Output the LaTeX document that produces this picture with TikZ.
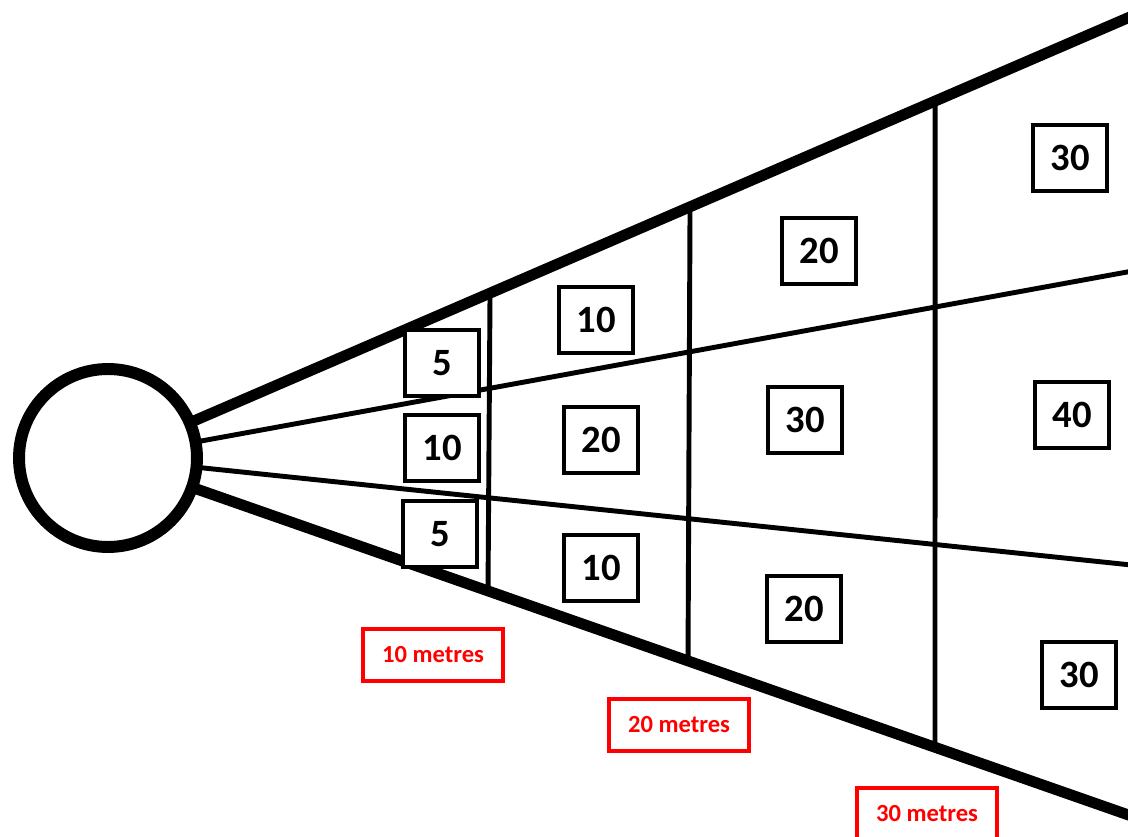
\documentclass[tikz,border=0pt]{standalone}
\usepackage{fontspec}
\setmainfont{Carlito}
\begin{document}
\begin{tikzpicture}[x=0.02cm,y=-0.02cm,
  outerline/.style={line width=6.2pt},
  innerline/.style={line width=2.8pt},
  divider/.style={line width=2.8pt},
  score/.style={draw, line width=2.3pt, fill=white, inner sep=0pt,
    minimum width=1.48cm, minimum height=1.32cm,
    font=\fontsize{22}{24}\selectfont\bfseries},
  rangebox/.style={draw=red, line width=1.9pt, fill=white, inner sep=0pt,
    minimum width=2.8cm, minimum height=1.04cm, text=red,
    font=\fontsize{14}{16}\selectfont\bfseries}]
  \useasboundingbox (0,0) rectangle (1128,837);

  % hub circle and the ends of the four rays
  \node[draw, circle, line width=6.8pt, inner sep=0pt, outer sep=0pt,
        minimum size=3.56cm] (hub) at (108,458) {};
  \coordinate (upEnd) at (1160,4);
  \coordinate (midUpEnd) at (1160,266);
  \coordinate (midLowEnd) at (1160,568);
  \coordinate (lowEnd) at (1160,826);

  \draw[outerline] (hub) -- (upEnd);
  \draw[outerline] (hub) -- (lowEnd);
  \draw[innerline] (hub) -- (midUpEnd);
  \draw[innerline] (hub) -- (midLowEnd);

  % distance dividers between the outer rays
  \foreach \name/\xt/\xb in {d1/490/488, d2/690/688, d3/935/935} {
    \coordinate (\name top) at (intersection of hub.center--upEnd and {\xt,0}--{\xt,837});
    \coordinate (\name bot) at (intersection of hub.center--lowEnd and {\xb,0}--{\xb,837});
    \draw[divider] (\name top) -- (\name bot);
  }

  % scores
  \node[score] (s1a) at (442,363) {5};
  \node[score] (s1b) at (442,448) {10};
  \node[score] (s1c) at (440,534) {5};
  \node[score] (s2a) at (596,320) {10};
  \node[score] (s2b) at (601,440) {20};
  \node[score] (s2c) at (601,568) {10};
  \node[score] (s3a) at (819,251) {20};
  \node[score] (s3b) at (805,420) {30};
  \node[score] (s3c) at (804,609) {20};
  \node[score] (s4a) at (1070,158) {30};
  \node[score] (s4b) at (1072,415) {40};
  \node[score] (s4c) at (1079,675) {30};

  % distance labels
  \node[rangebox] (m10) at (433,655) {10 metres};
  \node[rangebox] (m20) at (679,725) {20 metres};
  \node[rangebox] (m30) at (927,814) {30 metres};
\end{tikzpicture}
\end{document}
